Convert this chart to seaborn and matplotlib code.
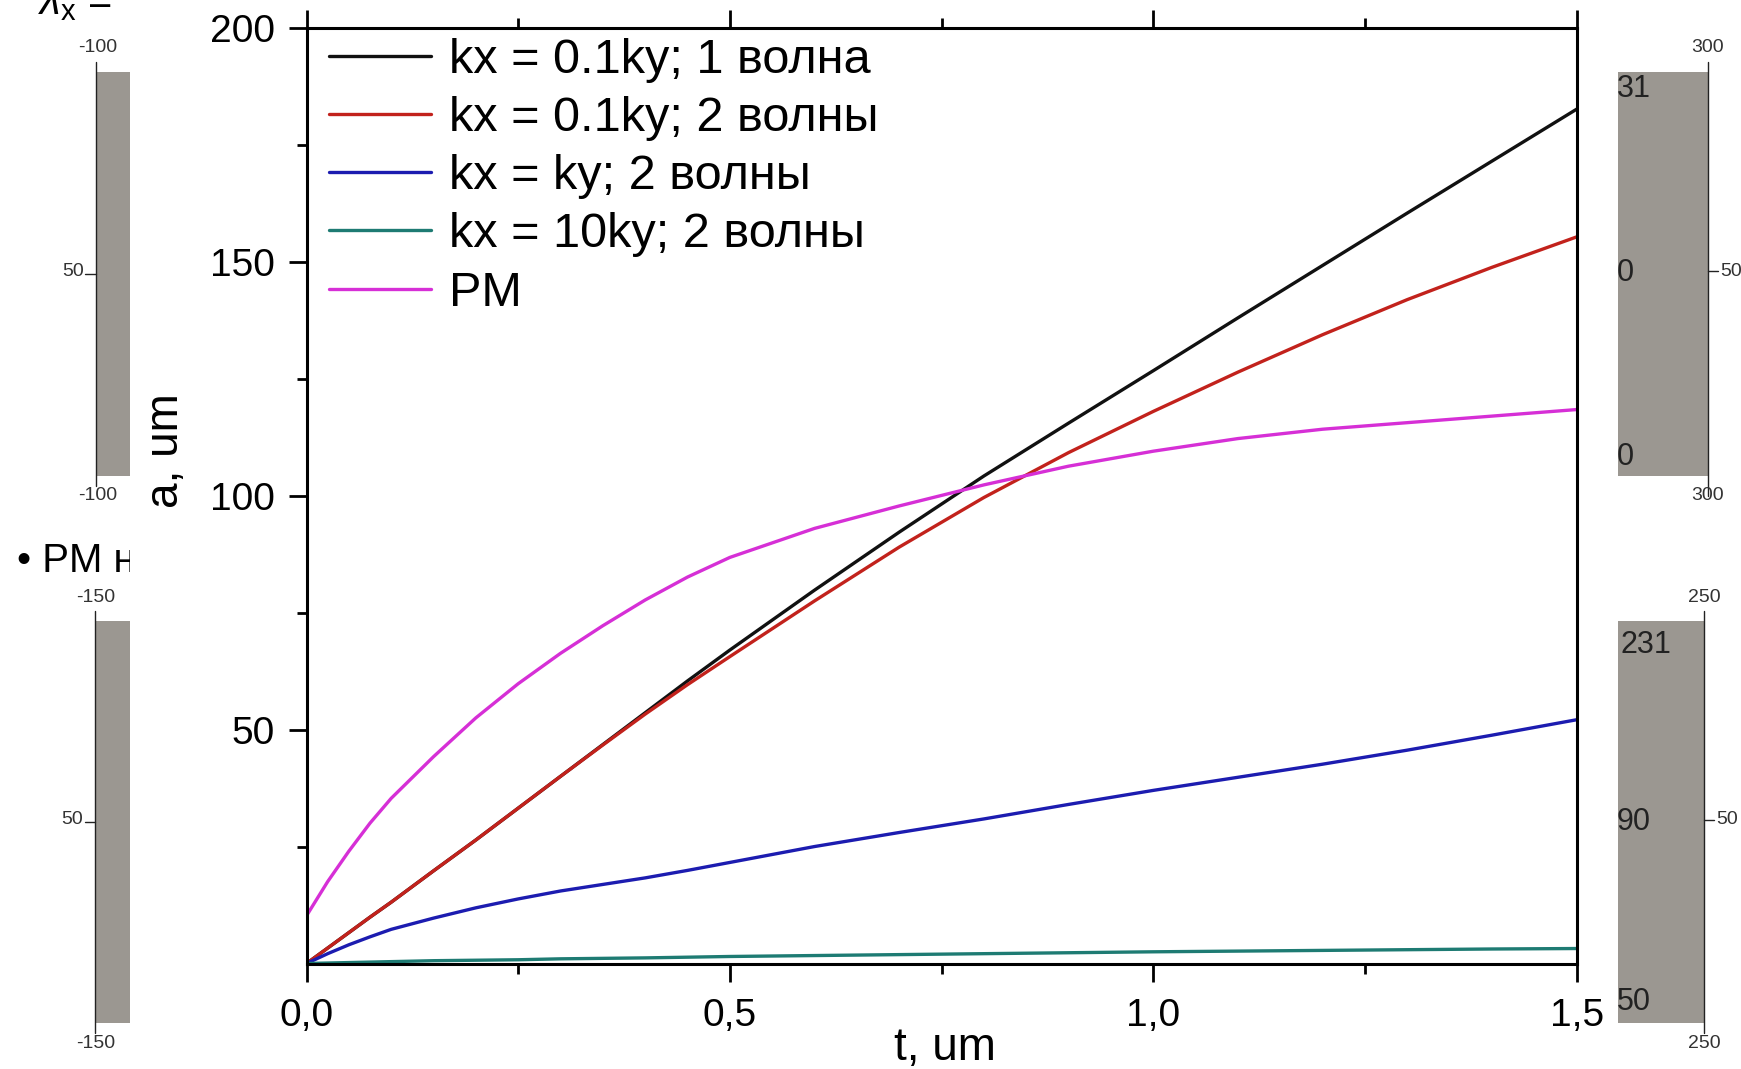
import matplotlib
matplotlib.use("Agg")
import matplotlib.pyplot as plt
import seaborn as sns
import numpy as np
import pandas as pd
from matplotlib.patches import Rectangle

# ---------------- data ----------------
t = [0, 0.025, 0.05, 0.075, 0.1, 0.15, 0.2, 0.25, 0.3, 0.35, 0.4, 0.45, 0.5,
     0.6, 0.7, 0.8, 0.9, 1.0, 1.1, 1.2, 1.3, 1.4, 1.5]

one_wave_01 = [0, 3.3, 6.6, 9.9, 13.1, 19.8, 26.4, 33.2, 40.0, 46.8, 53.6, 60.4, 67.0,
               79.8, 92.2, 104.2, 115.5, 126.7, 138.0, 149.2, 160.4, 171.5, 182.6]
two_waves_01 = [0, 3.3, 6.6, 9.9, 13.1, 19.8, 26.4, 33.2, 40.0, 46.7, 53.3, 59.6, 65.6,
                77.5, 89.0, 99.6, 109.2, 118.0, 126.4, 134.4, 141.9, 148.8, 155.3]
two_waves_1 = [0, 2.1, 4.0, 5.7, 7.3, 9.7, 11.9, 13.8, 15.5, 16.9, 18.3, 19.9, 21.6,
               25.0, 28.0, 30.9, 34.0, 37.0, 39.8, 42.6, 45.6, 48.8, 52.1]
two_waves_10 = [0, 0.1, 0.2, 0.3, 0.4, 0.6, 0.7, 0.8, 1.0, 1.1, 1.2, 1.35, 1.5,
                1.7, 1.9, 2.1, 2.3, 2.5, 2.65, 2.8, 2.95, 3.1, 3.2]
pm = [10.2, 17.5, 24.0, 30.0, 35.3, 44.2, 52.5, 59.8, 66.3, 72.2, 77.7, 82.6, 86.8,
      93.0, 97.8, 102.3, 106.3, 109.5, 112.2, 114.2, 115.6, 117.0, 118.4]

series_labels = ["kx = 0.1ky; 1 волна", "kx = 0.1ky; 2 волны", "kx = ky; 2 волны",
                 "kx = 10ky; 2 волны", "PM"]
series_colors = ["#111111", "#c2221c", "#1c1cb0", "#1e7b73", "#d62fd6"]
series_values = [one_wave_01, two_waves_01, two_waves_1, two_waves_10, pm]

x_ticks = [0, 0.5, 1.0, 1.5]
x_tick_labels = ["0,0", "0,5", "1,0", "1,5"]
x_minor = [0.25, 0.75, 1.25]
y_ticks = [50, 100, 150, 200]
y_tick_labels = ["50", "100", "150", "200"]
y_minor = [25, 75, 125, 175]

# ---------------- styling ----------------
sns.set_theme(style="ticks")
plt.rcParams["font.family"] = ["Liberation Sans", "DejaVu Sans"]
plt.rcParams["text.color"] = "black"
plt.rcParams["axes.labelcolor"] = "black"
plt.rcParams["mathtext.fontset"] = "custom"
plt.rcParams["mathtext.rm"] = "Liberation Sans"
plt.rcParams["mathtext.it"] = "Liberation Sans:italic"

W, H = 1741, 1069
fig = plt.figure(figsize=(W / 100, H / 100), dpi=100, facecolor="white")

# ---------------- background slide fragments ----------------
bg = fig.add_axes([0, 0, 1, 1])
bg.set_xlim(0, W)
bg.set_ylim(H, 0)
bg.axis("off")

GRAY = "#9b9791"
for x0, y0, x1, y1 in [(95.5, 72, 130, 476), (95, 621, 130, 1023),
                       (1618, 72, 1708, 476), (1618, 621, 1704, 1023)]:
    bg.add_patch(Rectangle((x0, y0), x1 - x0, y1 - y0, fc=GRAY, ec="none", zorder=1))

lc = "#222222"
bg.plot([96, 96], [62, 486], color=lc, lw=1.0, zorder=2)
bg.plot([85, 96], [274, 274], color=lc, lw=1.0, zorder=2)
bg.plot([95, 95], [611, 1033], color=lc, lw=1.0, zorder=2)
bg.plot([85, 95], [822, 822], color=lc, lw=1.0, zorder=2)
bg.plot([1708, 1708], [62, 496], color=lc, lw=1.0, zorder=2)
bg.plot([1708, 1718], [271, 271], color=lc, lw=1.0, zorder=2)
bg.plot([1704, 1704], [611, 1033], color=lc, lw=1.0, zorder=2)
bg.plot([1704, 1714], [820, 820], color=lc, lw=1.0, zorder=2)

small = dict(fontsize=14, color="#333333", zorder=3)
bg.text(98, 48, "-100", ha="center", va="center", **small)
bg.text(84, 271, "50", ha="right", va="center", **small)
bg.text(98, 495, "-100", ha="center", va="center", **small)
bg.text(96, 597, "-150", ha="center", va="center", **small)
bg.text(83, 820, "50", ha="right", va="center", **small)
bg.text(96, 1043, "-150", ha="center", va="center", **small)
bg.text(1708, 48, "300", ha="center", va="center", **small)
bg.text(1720, 271, "50", ha="left", va="center", **small)
bg.text(1708, 495, "300", ha="center", va="center", **small)
bg.text(1704, 597, "250", ha="center", va="center", **small)
bg.text(1716, 820, "50", ha="left", va="center", **small)
bg.text(1704, 1043, "250", ha="center", va="center", **small)

big = dict(fontsize=22, color="#222222", zorder=3, ha="left", va="center")
bg.text(1617, 89, "31", **big)
bg.text(1617, 273, "0", **big)
bg.text(1617, 457, "0", **big)
bg.text(1620, 645, "231", **big)
bg.text(1617, 822, "90", **big)
bg.text(1617, 1002, "50", **big)

bg.text(17, 572, "• PM на", fontsize=29, color="black", ha="left", va="baseline", zorder=3)
bg.text(38, 14, r"$\lambda_{\rm x}$ =", fontsize=30, color="black", ha="left",
        va="baseline", zorder=3)

# white area of the pasted chart image
bg.add_patch(Rectangle((130, 0), 1488, H, fc="white", ec="none", zorder=10))

# ---------------- main chart ----------------
ax = fig.add_axes([306.5 / W, 1 - 963.5 / H, (1576.6 - 306.5) / W, (963.5 - 27.8) / H])
ax.set_facecolor("white")

for lab, vals, col in zip(series_labels, series_values, series_colors):
    sns.lineplot(x=t, y=vals, ax=ax, color=col, linewidth=2.4, label=lab)

ax.set_xlim(0, 1.5)
ax.set_ylim(0, 200)
ax.set_xticks(x_ticks)
ax.set_xticklabels(x_tick_labels)
ax.set_xticks(x_minor, minor=True)
ax.set_yticks(y_ticks)
ax.set_yticklabels(y_tick_labels)
ax.set_yticks(y_minor, minor=True)

ax.tick_params(axis="x", which="both", direction="out", top=True, bottom=True,
               labeltop=False, colors="black")
ax.tick_params(axis="y", which="both", direction="out", left=True, right=False,
               colors="black")
ax.tick_params(which="major", length=13, width=2)
ax.tick_params(which="minor", length=7, width=2)
ax.tick_params(axis="x", which="major", pad=12, labelsize=28)
ax.tick_params(axis="y", which="major", pad=10, labelsize=28)

for sp in ax.spines.values():
    sp.set_visible(True)
    sp.set_color("black")
    sp.set_linewidth(2.2)

ax.set_xlabel("t, um", fontsize=33, color="black")
ax.xaxis.set_label_coords(0.5028, -0.0903)
ax.xaxis.label.set_va("center")
ax.set_ylabel("a, um", fontsize=33, color="black")
ax.yaxis.set_label_coords(-0.1106, 0.5477)
ax.yaxis.label.set_va("center")

leg = ax.legend(loc="upper left", bbox_to_anchor=(0.0177, 0.989), frameon=False,
                fontsize=35, handlelength=2.1, handletextpad=0.37, labelspacing=0.27,
                borderpad=0, borderaxespad=0)
for txt in leg.get_texts():
    txt.set_color("black")

fig.savefig("out.png", dpi=100, facecolor="white")
